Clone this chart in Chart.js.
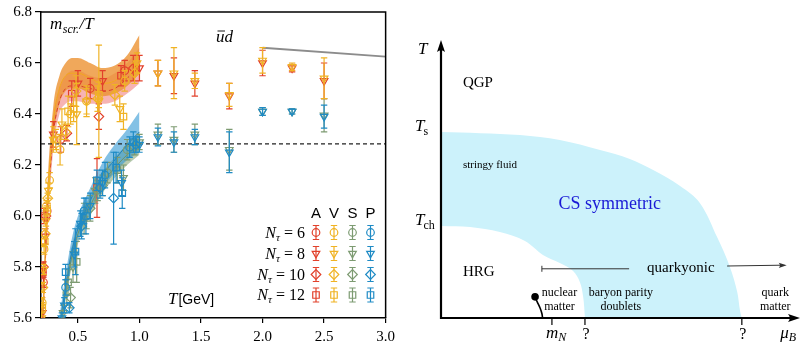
<!DOCTYPE html>
<html>
<head>
<meta charset="utf-8">
<script src="https://cdn.jsdelivr.net/npm/chart.js@4.4.1/dist/chart.umd.min.js"></script>
<style>
  html, body { margin: 0; padding: 0; background: #fff; }
  #wrap { position: relative; width: 804px; height: 342px; overflow: hidden; }
  #mass { position: absolute; left: 0; top: 0; }
  #phase { position: absolute; left: 400px; top: 0; }
</style>
</head>
<body>
<div id="wrap">
  <canvas id="mass" width="400" height="342"></canvas>
  <canvas id="phase" width="404" height="342"></canvas>
</div>
<script>
// ---------------- screening masses: rows are [T (GeV), m_scr/T, error] ----------------
const A6  = [[0.22,5.74,0.02],[0.25,6.02,0.03],[0.36,6.30,0.05],[0.60,6.50,0.04],[0.88,6.57,0.04]];
const A8  = [[0.21,5.62,0.02],[0.235,5.92,0.03],[0.30,6.32,0.05],[0.50,6.52,0.05],[0.70,6.53,0.04],[1.00,6.58,0.05],[1.15,6.56,0.05],[1.28,6.55,0.07],[1.45,6.52,0.05],[1.73,6.47,0.05],[2.00,6.60,0.05],[2.24,6.58,0.015],[2.50,6.53,0.07]];
const A10 = [[0.22,5.80,0.02],[0.24,6.00,0.02],[0.41,6.325,0.03],[0.67,6.39,0.05],[0.95,6.58,0.05]];
const A12 = [[0.215,5.78,0.02],[0.226,6.00,0.03],[0.45,6.48,0.05],[0.655,6.11,0.115],[0.85,6.55,0.04]];

const V6  = [[0.21,5.66,0.02],[0.225,5.87,0.02],[0.245,6.04,0.02],[0.27,6.14,0.03],[0.355,6.26,0.06],[0.44,6.40,0.04],[0.57,6.45,0.05],[0.88,6.53,0.04]];
const V8  = [[0.205,5.60,0.02],[0.22,5.79,0.02],[0.24,5.98,0.02],[0.26,6.10,0.03],[0.30,6.30,0.05],[0.37,6.36,0.06],[0.49,6.40,0.12],[0.57,6.45,0.06],[0.67,6.45,0.22],[0.84,6.42,0.05],[0.98,6.60,0.04],[1.15,6.56,0.05],[1.28,6.56,0.10],[1.45,6.53,0.03],[1.73,6.475,0.045],[2.00,6.61,0.05],[2.24,6.585,0.015],[2.50,6.54,0.08]];
const V10 = [[0.215,5.72,0.02],[0.235,5.93,0.02],[0.255,6.07,0.02],[0.40,6.33,0.03],[0.485,6.49,0.06],[0.66,6.46,0.05],[0.80,6.475,0.04],[0.96,6.56,0.04]];
const V12 = [[0.21,5.64,0.02],[0.23,5.90,0.02],[0.25,6.02,0.02],[0.32,6.30,0.04],[0.42,6.41,0.06],[0.465,6.42,0.05],[0.67,6.475,0.05],[0.87,6.39,0.05]];

const S6  = [[0.41,5.70,0.05],[0.57,6.00,0.05],[0.74,6.17,0.04],[0.90,6.26,0.04]];
const S8  = [[0.38,5.62,0.03],[0.46,5.80,0.06],[0.55,5.99,0.06],[0.64,6.10,0.05],[0.87,6.15,0.05],[1.00,6.29,0.03],[1.15,6.32,0.04],[1.28,6.30,0.05],[1.45,6.32,0.04],[1.73,6.26,0.08],[2.00,6.41,0.015],[2.24,6.41,0.01],[2.50,6.395,0.065]];
const S10 = [[0.44,5.68,0.04],[0.60,6.03,0.05],[0.70,6.12,0.04],[0.96,6.27,0.03]];
const S12 = [[0.42,5.74,0.05],[0.49,5.82,0.08],[0.66,6.10,0.04],[0.82,6.18,0.05]];

const P6  = [[0.40,5.72,0.03],[0.55,6.02,0.05],[0.72,6.16,0.05],[0.92,6.27,0.04]];
const P8  = [[0.37,5.60,0.02],[0.39,5.65,0.03],[0.47,5.85,0.05],[0.52,5.97,0.05],[0.60,6.04,0.05],[0.70,6.13,0.05],[0.855,6.13,0.05],[1.00,6.28,0.03],[1.15,6.31,0.035],[1.28,6.29,0.04],[1.45,6.31,0.03],[1.73,6.25,0.08],[2.00,6.41,0.015],[2.24,6.41,0.01],[2.50,6.39,0.045]];
const P10 = [[0.43,5.64,0.02],[0.53,5.96,0.05],[0.68,6.11,0.04],[0.79,6.07,0.18],[0.97,6.28,0.03]];
const P12 = [[0.40,5.78,0.03],[0.48,5.86,0.09],[0.565,6.00,0.07],[0.654,6.14,0.04],[0.81,6.19,0.06],[0.86,6.09,0.06],[0.95,6.29,0.04]];

// fitted bands (lower edge, centre, upper edge)
const UPPER_T = [0.20,0.22,0.25,0.30,0.35,0.40,0.45,0.50,0.60,0.70,0.80,0.90,1.00];
const V_LO  = [5.30,5.60,5.95,6.30,6.44,6.49,6.50,6.50,6.48,6.47,6.48,6.51,6.56];
const V_MID = [5.37,5.66,6.02,6.37,6.50,6.55,6.56,6.56,6.54,6.52,6.53,6.57,6.63];
const V_HI  = [5.45,5.72,6.10,6.43,6.55,6.60,6.62,6.62,6.60,6.58,6.59,6.63,6.71];
const A_LO  = [5.28,5.58,5.92,6.26,6.40,6.44,6.45,6.45,6.44,6.44,6.45,6.48,6.52];
const A_MID = [5.34,5.63,5.98,6.32,6.45,6.50,6.51,6.51,6.50,6.49,6.50,6.54,6.59];
const A_HI  = [5.40,5.68,6.05,6.38,6.50,6.55,6.57,6.57,6.55,6.54,6.56,6.60,6.66];
const LOWER_T = [0.34,0.36,0.40,0.45,0.50,0.60,0.70,0.80,0.90,1.00];
const P_LO  = [5.50,5.56,5.68,5.82,5.91,6.02,6.11,6.17,6.22,6.25];
const P_MID = [5.54,5.60,5.72,5.86,5.95,6.06,6.16,6.22,6.28,6.33];
const P_HI  = [5.58,5.64,5.77,5.91,6.00,6.11,6.21,6.28,6.34,6.41];
const S_LO  = [5.49,5.55,5.67,5.80,5.89,6.00,6.09,6.15,6.20,6.24];
const S_MID = [5.52,5.58,5.70,5.84,5.93,6.04,6.13,6.19,6.24,6.28];
const S_HI  = [5.55,5.61,5.74,5.88,5.97,6.08,6.17,6.23,6.28,6.33];

const FREE_LIMIT = 6.283;                 // free-quark value, dashed line
const PERT_T = [2.0, 3.0];                // perturbative curve
const PERT_M = [6.66, 6.625];

const X_TICKS = [0.5, 1.0, 1.5, 2.0, 2.5, 3.0];
const Y_TICKS = [5.6, 5.8, 6.0, 6.2, 6.4, 6.6, 6.8];
const CHANNELS = ['A', 'V', 'S', 'P'];
const N_TAU = [6, 8, 10, 12];

// ---------------- phase diagram: (mu_B, T) in units of the axis length ----------------
const CS_MU = [0, 0.109, 0.220, 0.331, 0.443, 0.526, 0.591, 0.666, 0.721, 0.769, 0.805, 0.825, 0.833, 0.838];
const CS_T  = [0.669, 0.665, 0.658, 0.640, 0.604, 0.572, 0.532, 0.475, 0.414, 0.291, 0.183, 0.094, 0.025, 0];
const HRG_MU = [0, 0.081, 0.164, 0.234, 0.284, 0.331, 0.368, 0.387, 0.396, 0.401];
const HRG_T  = [0.331, 0.327, 0.309, 0.277, 0.227, 0.198, 0.169, 0.129, 0.076, 0];
const NUC_MU = [0.262, 0.268, 0.276, 0.281, 0.283];
const NUC_T  = [0.076, 0.058, 0.036, 0.016, 0];
const T_MARKS = [0.669, 0.331];
const MU_TICKS = [0.309, 0.401, 0.838];
const QY_LEFT_MU = [0.281, 0.524];
const QY_RIGHT_MU = [0.797, 0.963];
const QY_T = [0.177, 0.187, 0.190];

// ---------------- styles ----------------
const SERIF = "'Liberation Serif', 'DejaVu Serif', serif";
const SANS = "'Liberation Sans', 'DejaVu Sans', sans-serif";
const CH_COLOR = { A: '#e2412b', V: '#f0b324', S: '#7d9b72', P: '#1f8bc5' };
const MARKER = {
  6:  { style: 'circle',   rot: 0,   r: 3.8 },
  8:  { style: 'triangle', rot: 180, r: 4.4 },
  10: { style: 'rectRot',  rot: 0,   r: 4.8 },
  12: { style: 'rect',     rot: 0,   r: 4.6 }
};
const SERIES = {
  A: { 6: A6, 8: A8, 10: A10, 12: A12 },
  V: { 6: V6, 8: V8, 10: V10, 12: V12 },
  S: { 6: S6, 8: S8, 10: S10, 12: S12 },
  P: { 6: P6, 8: P8, 10: P10, 12: P12 }
};
const DRAW_RANK = { P: 0, V: 1, S: 2, A: 3 };

Chart.defaults.font.family = SERIF;
Chart.defaults.color = '#000';

const xy = (xs, ys) => xs.map((x, i) => ({ x: x, y: ys[i] }));

// ---------------- screening-mass chart ----------------
const massSets = [];
function addBand(xs, lo, mid, hi, fillColor, lineColor, dash, rank) {
  const smooth = { cubicInterpolationMode: 'monotone', pointRadius: 0, showLine: true, clip: 0 };
  massSets.push(Object.assign({ data: xy(xs, lo), borderWidth: 0, borderColor: 'rgba(0,0,0,0)',
    fill: false, order: 30 + rank }, smooth));
  massSets.push(Object.assign({ data: xy(xs, hi), borderWidth: 0, borderColor: 'rgba(0,0,0,0)',
    fill: '-1', backgroundColor: fillColor, order: 30 + rank }, smooth));
  massSets.push(Object.assign({ data: xy(xs, mid), borderWidth: 1, borderColor: lineColor,
    borderDash: dash, fill: false, order: 20 + rank }, smooth));
}
addBand(UPPER_T, A_LO, A_MID, A_HI, 'rgba(240,128,128,0.60)', '#d8402a', [4, 3], 3);
addBand(UPPER_T, V_LO, V_MID, V_HI, 'rgba(236,146,50,0.80)', '#f2a81e', [], 2);
addBand(LOWER_T, S_LO, S_MID, S_HI, 'rgba(125,160,112,0.55)', '#6f9163', [], 1);
addBand(LOWER_T, P_LO, P_MID, P_HI, 'rgba(48,152,212,0.60)', '#1f7fb8', [], 0);

massSets.push({ data: [{ x: 0.2, y: FREE_LIMIT }, { x: 3.0, y: FREE_LIMIT }], showLine: true,
  borderColor: '#222', borderWidth: 1.2, borderDash: [4, 3], pointRadius: 0, order: 10, clip: 0 });
massSets.push({ data: xy(PERT_T, PERT_M), showLine: true, borderColor: '#8c8c8c', borderWidth: 2,
  pointRadius: 0, order: 10, clip: 0 });

CHANNELS.forEach(ch => {
  N_TAU.forEach(nt => {
    const rows = SERIES[ch][nt];
    const m = MARKER[nt];
    massSets.push({
      label: ch + ' N=' + nt,
      data: rows.map(r => ({ x: r[0], y: r[1] })),
      errors: rows.map(r => r[2]),
      showLine: false,
      pointStyle: m.style,
      pointRotation: m.rot,
      pointRadius: m.r,
      pointBorderWidth: 1.2,
      pointBorderColor: CH_COLOR[ch],
      pointBackgroundColor: 'rgba(255,255,255,0)',
      borderColor: CH_COLOR[ch],
      order: DRAW_RANK[ch],
      clip: 0
    });
  });
});

// vertical error bars with caps, drawn with each data set
const errorBars = {
  id: 'errorBars',
  afterDatasetDraw(chart, args) {
    const ds = chart.data.datasets[args.index];
    if (!ds.errors) return;
    const { ctx, chartArea: ca } = chart;
    const xs = chart.scales.x, ys = chart.scales.y;
    ctx.save();
    ctx.beginPath();
    ctx.rect(ca.left, ca.top, ca.right - ca.left, ca.bottom - ca.top);
    ctx.clip();
    ctx.strokeStyle = ds.pointBorderColor;
    ctx.lineWidth = 1.2;
    ds.data.forEach((p, i) => {
      const x = xs.getPixelForValue(p.x);
      const y1 = ys.getPixelForValue(p.y - ds.errors[i]);
      const y2 = ys.getPixelForValue(p.y + ds.errors[i]);
      ctx.beginPath();
      ctx.moveTo(x, y1); ctx.lineTo(x, y2);
      ctx.moveTo(x - 3.2, y1); ctx.lineTo(x + 3.2, y1);
      ctx.moveTo(x - 3.2, y2); ctx.lineTo(x + 3.2, y2);
      ctx.stroke();
    });
    ctx.restore();
  }
};

function drawMarker(ctx, nt, color, x, y) {
  const m = MARKER[nt];
  ctx.save();
  ctx.strokeStyle = color;
  ctx.fillStyle = 'rgba(255,255,255,0)';
  ctx.lineWidth = 1.2;
  Chart.helpers.drawPoint(ctx, { pointStyle: m.style, rotation: m.rot, radius: m.r, borderWidth: 1.2 }, x, y);
  ctx.beginPath();
  ctx.moveTo(x, y - 7); ctx.lineTo(x, y + 7);
  ctx.moveTo(x - 3.2, y - 7); ctx.lineTo(x + 3.2, y - 7);
  ctx.moveTo(x - 3.2, y + 7); ctx.lineTo(x + 3.2, y + 7);
  ctx.stroke();
  ctx.restore();
}

function put(ctx, s, x, y, font, color, align) {
  ctx.font = font;
  ctx.fillStyle = color || '#000';
  ctx.textAlign = align || 'left';
  ctx.textBaseline = 'alphabetic';
  ctx.fillText(s, x, y);
  return ctx.measureText(s).width;
}

const massDecor = {
  id: 'massDecor',
  afterDraw(chart) {
    const { ctx, chartArea: ca } = chart;
    ctx.save();
    // closing frame (top and right)
    ctx.strokeStyle = '#000';
    ctx.lineWidth = 1.5;
    ctx.beginPath();
    ctx.moveTo(ca.left, ca.top); ctx.lineTo(ca.right, ca.top); ctx.lineTo(ca.right, ca.bottom);
    ctx.stroke();

    // axis title  m_scr./T
    let x = ca.left + 9;
    x += put(ctx, 'm', x, ca.top + 17, 'italic 17px ' + SERIF);
    x += put(ctx, 'scr.', x + 0.5, ca.top + 21, 'italic 12px ' + SERIF) + 1;
    put(ctx, '/T', x, ca.top + 17, 'italic 17px ' + SERIF);

    // channel label  ū d
    const ux = 216, uy = 42;
    const uw = put(ctx, 'u', ux, uy, 'italic 17px ' + SERIF);
    put(ctx, 'd', ux + uw, uy, 'italic 17px ' + SERIF);
    ctx.lineWidth = 0.9;
    ctx.beginPath(); ctx.moveTo(ux + 1.5, uy - 11); ctx.lineTo(ux + uw + 0.5, uy - 11); ctx.stroke();

    // T[GeV]
    const tw = put(ctx, 'T', 168, 304, 'italic 17px ' + SERIF);
    put(ctx, '[GeV]', 168 + tw + 1, 304, '14px ' + SANS);

    // legend
    const colX = [316, 334, 352.5, 370.5];
    const rowY = [232.5, 253.5, 274.5, 295];
    CHANNELS.forEach((ch, j) => put(ctx, ch, colX[j], 218, '15px ' + SANS, '#000', 'center'));
    N_TAU.forEach((nt, i) => {
      const y = rowY[i];
      ctx.font = 'italic 16px ' + SERIF; const wN = ctx.measureText('N').width;
      ctx.font = 'italic 11px ' + SERIF; const wT = ctx.measureText('τ').width;
      ctx.font = '16px ' + SERIF; const wE = ctx.measureText(' = ' + nt).width;
      let lx = 305 - (wN + wT + wE);
      put(ctx, 'N', lx, y + 5, 'italic 16px ' + SERIF); lx += wN;
      put(ctx, 'τ', lx, y + 8, 'italic 11px ' + SERIF); lx += wT;
      put(ctx, ' = ' + nt, lx, y + 5, '16px ' + SERIF);
      CHANNELS.forEach((ch, j) => drawMarker(ctx, nt, CH_COLOR[ch], colX[j], y));
    });
    ctx.restore();
  }
};

new Chart(document.getElementById('mass'), {
  type: 'line',
  data: { datasets: massSets },
  options: {
    responsive: false,
    animation: false,
    devicePixelRatio: 1,
    layout: { padding: { top: 12, right: 11, left: 0, bottom: 0 } },
    plugins: { legend: { display: false }, tooltip: { enabled: false } },
    scales: {
      x: {
        type: 'linear', min: 0.2, max: 3.0,
        afterBuildTicks: s => { s.ticks = X_TICKS.map(v => ({ value: v })); },
        afterFit: s => { s.height = 24; },
        ticks: { callback: v => Number(v).toFixed(1), font: { size: 15, family: SERIF }, color: '#000', maxRotation: 0, padding: 5 },
        grid: { drawOnChartArea: false, drawTicks: true, tickLength: 5, color: '#000', lineWidth: 1.2 },
        border: { display: true, color: '#000', width: 1.5 }
      },
      y: {
        type: 'linear', min: 5.6, max: 6.8,
        afterBuildTicks: s => { s.ticks = Y_TICKS.map(v => ({ value: v })); },
        afterFit: s => { s.width = 41; },
        ticks: { callback: v => Number(v).toFixed(1), font: { size: 15, family: SERIF }, color: '#000', padding: 3 },
        grid: { drawOnChartArea: false, drawTicks: true, tickLength: 6, color: '#000', lineWidth: 1.2 },
        border: { display: true, color: '#000', width: 1.5 }
      }
    }
  },
  plugins: [errorBars, massDecor]
});

// ---------------- phase diagram chart ----------------
const CS_FILL = '#ccf2fb';

function arrowHead(ctx, tx, ty, angle, len, half) {
  ctx.save();
  ctx.translate(tx, ty);
  ctx.rotate(angle);
  ctx.beginPath();
  ctx.moveTo(0, 0);
  ctx.lineTo(-len, -half);
  ctx.quadraticCurveTo(-len * 0.7, 0, -len, half);
  ctx.closePath();
  ctx.fill();
  ctx.restore();
}

const phaseDecor = {
  id: 'phaseDecor',
  afterDraw(chart) {
    const { ctx } = chart;
    const xs = chart.scales.x, ys = chart.scales.y;
    const px = v => xs.getPixelForValue(v), py = v => ys.getPixelForValue(v);
    const x0 = px(0), y0 = py(0);
    ctx.save();
    ctx.strokeStyle = '#000';
    ctx.fillStyle = '#000';

    // axes with arrow heads
    ctx.lineWidth = 2.2;
    ctx.beginPath();
    ctx.moveTo(x0, y0 + 1); ctx.lineTo(x0, py(1) + 6);
    ctx.moveTo(x0 - 1, y0); ctx.lineTo(px(1) - 6, y0);
    ctx.stroke();
    arrowHead(ctx, x0, py(1), -Math.PI / 2, 12, 4);
    arrowHead(ctx, px(1), y0, 0, 12, 4);

    // ticks on the mu_B axis
    ctx.lineWidth = 1.2;
    MU_TICKS.forEach(m => {
      ctx.beginPath(); ctx.moveTo(px(m), y0); ctx.lineTo(px(m), y0 + 7); ctx.stroke();
    });

    // quarkyonic marker line and arrow
    ctx.lineWidth = 1;
    ctx.strokeStyle = '#333';
    ctx.fillStyle = '#333';
    const qyl = py(QY_T[0]);
    ctx.beginPath();
    ctx.moveTo(px(QY_LEFT_MU[0]), qyl - 3); ctx.lineTo(px(QY_LEFT_MU[0]), qyl + 3);
    ctx.moveTo(px(QY_LEFT_MU[0]), qyl); ctx.lineTo(px(QY_LEFT_MU[1]), qyl);
    ctx.moveTo(px(QY_RIGHT_MU[0]), py(QY_T[1])); ctx.lineTo(px(QY_RIGHT_MU[1]) - 4, py(QY_T[2]));
    ctx.stroke();
    arrowHead(ctx, px(QY_RIGHT_MU[1]), py(QY_T[2]), -0.02, 8, 2.6);

    ctx.fillStyle = '#000';
    // T-axis labels
    const lx = x0 - 26;
    put(ctx, 'T', lx + 3, py(1) + 14, 'italic 17px ' + SERIF);
    let w = put(ctx, 'T', lx, py(T_MARKS[0]) - 1, 'italic 17px ' + SERIF);
    put(ctx, 's', lx + w - 1, py(T_MARKS[0]) + 3, '12px ' + SERIF);
    w = put(ctx, 'T', lx, py(T_MARKS[1]) - 1, 'italic 17px ' + SERIF);
    put(ctx, 'ch', lx + w - 1, py(T_MARKS[1]) + 3, '12px ' + SERIF);

    // mu_B tick labels
    const tb = y0 + 20;
    w = put(ctx, 'm', px(MU_TICKS[0]) - 6, tb, 'italic 17px ' + SERIF);
    put(ctx, 'N', px(MU_TICKS[0]) - 6 + w, tb + 3, 'italic 12px ' + SERIF);
    put(ctx, '?', px(MU_TICKS[1]) + 1, tb + 1, '16px ' + SERIF, '#000', 'center');
    put(ctx, '?', px(MU_TICKS[2]) + 1, tb + 1, '16px ' + SERIF, '#000', 'center');
    w = put(ctx, 'μ', px(0.945), tb, 'italic 17px ' + SERIF);
    put(ctx, 'B', px(0.945) + w, tb + 3, 'italic 12px ' + SERIF);

    // region names
    const left = px(0.061);
    put(ctx, 'QGP', left, py(0.831), '15px ' + SERIF);
    put(ctx, 'stringy fluid', left, py(0.540), '11px ' + SERIF);
    put(ctx, 'CS symmetric', px(0.327), py(0.392), '18px ' + SERIF, '#1a1ad6');
    put(ctx, 'HRG', left, py(0.151), '15px ' + SERIF);
    put(ctx, 'quarkyonic', px(0.668), py(0.165), '15px ' + SERIF, '#000', 'center');
    put(ctx, 'nuclear', px(0.330), py(0.079), '12px ' + SERIF, '#000', 'center');
    put(ctx, 'matter', px(0.330), py(0.029), '12px ' + SERIF, '#000', 'center');
    put(ctx, 'baryon parity', px(0.501), py(0.079), '12px ' + SERIF, '#000', 'center');
    put(ctx, 'doublets', px(0.501), py(0.029), '12px ' + SERIF, '#000', 'center');
    put(ctx, 'quark', px(0.931), py(0.079), '12px ' + SERIF, '#000', 'center');
    put(ctx, 'matter', px(0.931), py(0.029), '12px ' + SERIF, '#000', 'center');
    ctx.restore();
  }
};

new Chart(document.getElementById('phase'), {
  type: 'line',
  data: {
    datasets: [
      { data: xy(CS_MU, CS_T), showLine: true, tension: 0.35, borderWidth: 0, borderColor: CS_FILL,
        backgroundColor: CS_FILL, fill: 'origin', pointRadius: 0, order: 3, clip: false },
      { data: xy(HRG_MU, HRG_T), showLine: true, tension: 0.35, borderWidth: 0, borderColor: '#fff',
        backgroundColor: '#fff', fill: 'origin', pointRadius: 0, order: 2, clip: false },
      { data: xy(NUC_MU, NUC_T), showLine: true, tension: 0.4, borderWidth: 1.6, borderColor: '#000',
        fill: false, pointRadius: [3.8, 0, 0, 0, 0], pointBackgroundColor: '#000', pointBorderWidth: 0,
        order: 1, clip: false }
    ]
  },
  options: {
    responsive: false,
    animation: false,
    devicePixelRatio: 1,
    layout: { padding: { left: 41, right: 2, top: 40, bottom: 24 } },
    plugins: { legend: { display: false }, tooltip: { enabled: false } },
    scales: {
      x: { type: 'linear', min: 0, max: 1, display: false },
      y: { type: 'linear', min: 0, max: 1, display: false }
    }
  },
  plugins: [phaseDecor]
});
</script>
</body>
</html>
